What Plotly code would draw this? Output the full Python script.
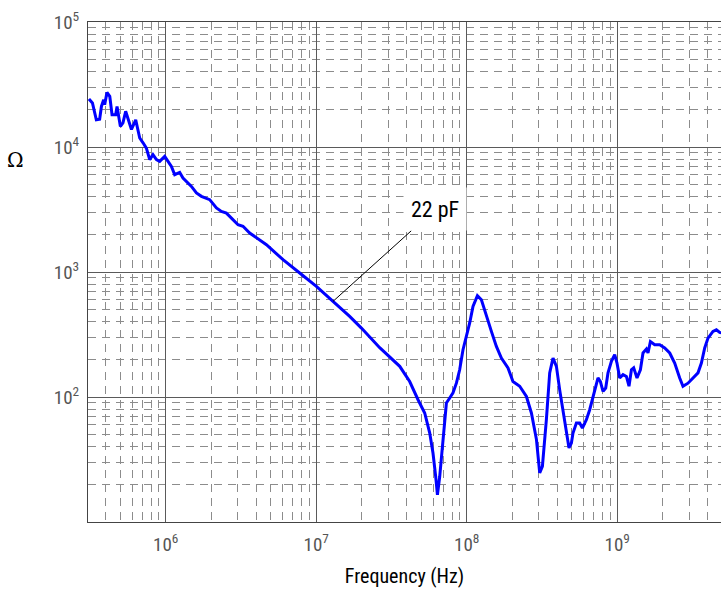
import plotly.graph_objects as go

# Frequency (Hz) and impedance magnitude (Ohm)
freq_hz = [
    3.09e5, 3.26e5, 3.46e5, 3.64e5, 3.74e5, 3.87e5, 3.93e5, 4.07e5, 4.25e5, 4.40e5,
    4.65e5, 4.75e5, 5.00e5, 5.20e5, 5.42e5, 5.70e5, 5.92e5, 6.32e5, 6.72e5, 7.07e5,
    7.44e5, 7.83e5, 8.23e5, 8.68e5, 9.12e5, 9.85e5, 1.036e6, 1.091e6, 1.148e6, 1.239e6,
    1.303e6, 1.407e6, 1.482e6, 1.600e6, 1.727e6, 1.960e6, 2.173e6, 2.345e6, 2.531e6, 2.733e6,
    3.023e6, 3.263e6, 3.615e6, 4.67e6, 6.02e6, 7.77e6, 1.003e7, 1.293e7, 1.669e7, 1.997e7,
    2.642e7, 3.59e7, 4.18e7, 4.75e7, 5.26e7, 5.68e7, 5.97e7, 6.22e7, 6.39e7, 6.62e7,
    6.90e7, 7.14e7, 7.33e7, 7.71e7, 8.11e7, 8.54e7, 8.98e7, 9.45e7, 9.95e7, 1.047e8,
    1.101e8, 1.178e8, 1.252e8, 1.352e8, 1.459e8, 1.575e8, 1.700e8, 1.881e8, 2.030e8, 2.250e8,
    2.493e8, 2.691e8, 2.905e8, 3.055e8, 3.184e8, 3.384e8, 3.560e8, 3.745e8, 3.945e8, 4.148e8,
    4.363e8, 4.596e8, 4.783e8, 4.962e8, 5.085e8, 5.356e8, 5.633e8, 5.870e8, 6.240e8, 6.566e8,
    6.906e8, 7.456e8, 7.736e8, 8.049e8, 8.389e8, 8.688e8, 9.152e8, 9.625e8, 9.970e8, 1.039e9,
    1.093e9, 1.151e9, 1.198e9, 1.243e9, 1.287e9, 1.354e9, 1.426e9, 1.484e9, 1.563e9, 1.602e9,
    1.662e9, 1.775e9, 1.916e9, 2.068e9, 2.233e9, 2.410e9, 2.602e9, 2.736e9, 2.954e9, 3.188e9,
    3.443e9, 3.626e9, 3.814e9, 4.011e9, 4.329e9, 4.561e9, 4.797e9, 5.18e9,
]
impedance_ohm = [
    2.42e4, 2.25e4, 1.65e4, 1.67e4, 2.11e4, 2.39e4, 2.18e4, 2.73e4, 2.54e4, 1.81e4,
    1.81e4, 2.11e4, 1.46e4, 1.56e4, 1.93e4, 1.56e4, 1.38e4, 1.65e4, 1.18e4, 1.08e4,
    9.8e3, 7.92e3, 8.68e3, 7.92e3, 7.67e3, 8.41e3, 7.67e3, 7.0e3, 6.0e3, 6.26e3,
    5.65e3, 5.15e3, 4.84e3, 4.29e3, 4.03e3, 3.79e3, 3.25e3, 3.05e3, 2.96e3, 2.70e3,
    2.39e3, 2.32e3, 2.05e3, 1654, 1254, 982, 767, 582, 441, 356,
    248, 176, 133, 95.1, 74.5, 51.5, 35.6, 23.2, 16.5, 23.2,
    40.3, 65.8, 89.5, 98.2, 108, 129, 165, 239, 305, 391,
    531, 646, 600, 441, 335, 254, 205, 171, 133, 122,
    101, 74.5, 46.0, 24.7, 27.9, 65.8, 156, 205, 176, 114,
    79.1, 51.5, 39.1, 42.9, 51.5, 61.9, 61.9, 56.5, 65.8, 79.1,
    101, 142, 133, 111, 118, 156, 193, 218, 187, 142,
    151, 146, 122, 165, 171, 142, 165, 225, 242, 225,
    278, 262, 262, 247, 225, 187, 142, 122, 129, 142,
    156, 187, 247, 296, 335, 345, 329, 320,
]

x_major = [1e6, 1e7, 1e8, 1e9]
x_major_text = ["10<sup>6</sup>", "10<sup>7</sup>", "10<sup>8</sup>", "10<sup>9</sup>"]
y_major = [1e2, 1e3, 1e4, 1e5]
y_major_text = ["10<sup>2</sup>", "10<sup>3</sup>", "10<sup>4</sup>", "10<sup>5</sup>"]

x_minor = [d * 10.0 ** e for e in range(5, 10) for d in range(2, 10)]
y_minor = [d * 10.0 ** e for e in range(1, 5) for d in range(2, 10)]

label_text = "22 pF"

NARROW = "Liberation Sans Narrow, Arial Narrow, Roboto Condensed, Liberation Sans, Arial, sans-serif"

fig = go.Figure()
fig.add_trace(go.Scatter(
    x=freq_hz, y=impedance_ohm, mode="lines",
    line=dict(color="#0000ff", width=3),
    showlegend=False, hoverinfo="skip",
))

grid_common = dict(
    showgrid=True, gridcolor="#5a5a5a", gridwidth=1,
    showline=True, linecolor="#444444", linewidth=1.2,
    ticks="", zeroline=False, automargin=False,
    tickfont=dict(family=NARROW, size=19, color="#555555"),
)

fig.update_xaxes(
    type="log", range=[5.4837, 9.6897],
    tickmode="array", tickvals=x_major, ticktext=x_major_text,
    mirror=True,
    minor=dict(tickmode="array", tickvals=x_minor, showgrid=True,
               gridcolor="#8c8c8c", griddash="8px,6px", gridwidth=1, ticks=""),
    title=dict(text="Frequency (Hz)", font=dict(family=NARROW, size=20, color="#000000"),
               standoff=14),
    ticklabelstandoff=5,
    **grid_common,
)
fig.update_yaxes(
    type="log", range=[1, 5],
    tickmode="array", tickvals=y_major, ticktext=y_major_text,
    mirror=False,
    minor=dict(tickmode="array", tickvals=y_minor, showgrid=True,
               gridcolor="#8c8c8c", griddash="8px,6px", gridwidth=1, ticks=""),
    ticklabelstandoff=4,
    **grid_common,
)

fig.add_annotation(
    x=7.1116, y=2.765, xref="x", yref="y",
    text=label_text, showarrow=True, arrowhead=0, arrowwidth=1, arrowcolor="#000000",
    ax=102, ay=-92, standoff=0,
    font=dict(family=NARROW, size=22, color="#000000"),
    bgcolor="#ffffff", width=60, height=40,
)
fig.add_annotation(
    x=-0.115, y=0.724, xref="paper", yref="paper", xanchor="center", yanchor="middle",
    text="Ω", showarrow=False,
    font=dict(family="DejaVu Serif, Liberation Serif, serif", size=20, color="#000000"),
)

fig.update_layout(
    width=721, height=589,
    margin=dict(l=88, r=0, t=22, b=67),
    paper_bgcolor="#ffffff", plot_bgcolor="#ffffff",
)

fig.write_html(
    "out.html",
    config={"displayModeBar": False},
    post_script="document.body.style.margin='0';document.body.style.overflow='hidden';",
)
